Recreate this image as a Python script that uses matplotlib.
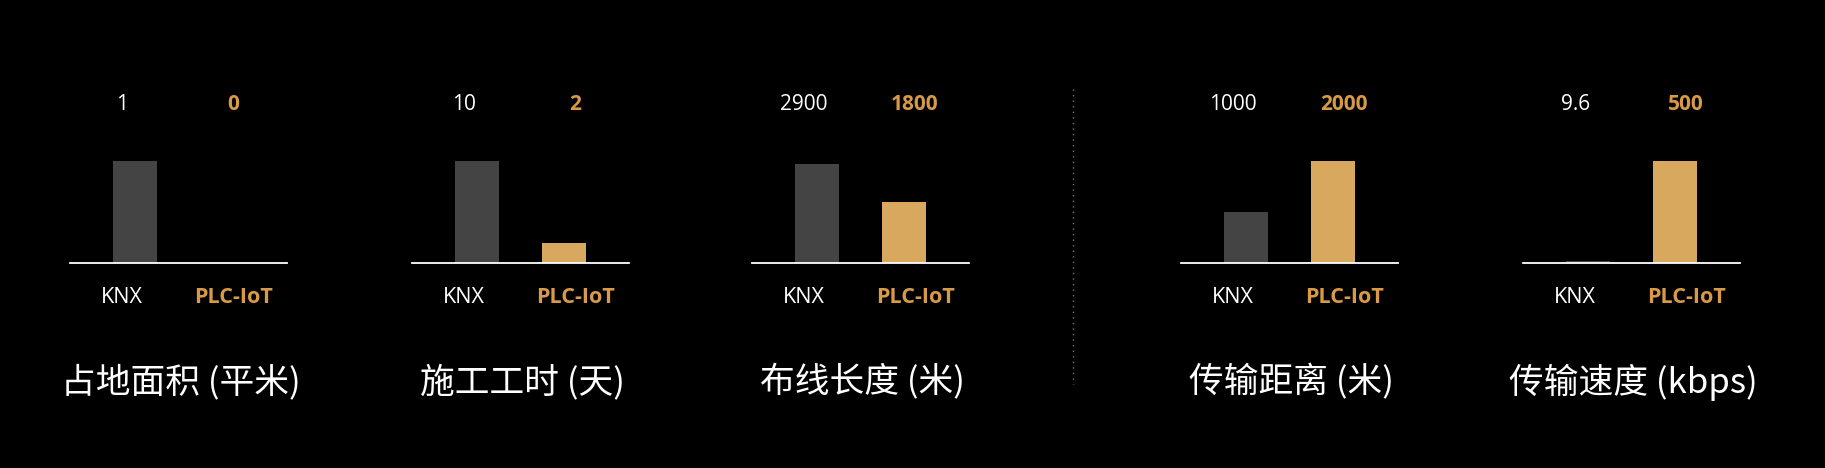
import matplotlib
matplotlib.use("Agg")
import matplotlib.pyplot as plt
from matplotlib.lines import Line2D

plt.rcParams['font.family'] = ['Noto Sans CJK SC', 'DejaVu Sans']
LATIN = ['Open Sans', 'Noto Sans CJK SC']

# 数据
titles = ['占地面积 (平米)', '施工工时 (天)', '布线长度 (米)', '传输距离 (米)', '传输速度 (kbps)']
knx_values = [1, 10, 2900, 1000, 9.6]
plc_values = [0, 2, 1800, 2000, 500]
knx_labels = ['1', '10', '2900', '1000', '9.6']
plc_labels = ['0', '2', '1800', '2000', '500']
categories = ['KNX', 'PLC-IoT']
y_tops = [1, 10, 3000, 2000, 500]

# 配色
BG = '#000000'
GRAY = '#444444'
GOLD = '#D8A85E'
GOLD_TEXT = '#D99A47'

W, H = 1825, 468
fig = plt.figure(figsize=(W / 100, H / 100), dpi=100, facecolor=BG)

lefts_px = [70, 412, 752, 1181, 1523]
ax_w = 217 / W
ax_bottom = 1 - 263 / H
ax_h = 102 / H

for i, title in enumerate(titles):
    ax = fig.add_axes([lefts_px[i] / W, ax_bottom, ax_w, ax_h])
    ax.set_facecolor(BG)
    ax.bar([0, 1], [knx_values[i], plc_values[i]], width=0.5,
           color=[GRAY, GOLD], zorder=2)
    ax.set_xlim(-0.75, 1.75)
    ax.set_ylim(0, y_tops[i])
    for s in ['top', 'left', 'right']:
        ax.spines[s].set_visible(False)
    ax.spines['bottom'].set_color('white')
    ax.spines['bottom'].set_linewidth(1.3)
    ax.spines['bottom'].set_zorder(3)
    ax.set_xticks([])
    ax.set_yticks([])

    # 数值
    ax.text(0.24, 1.55, knx_labels[i], transform=ax.transAxes,
            ha='center', va='center', fontsize=15, color='white',
            family=LATIN)
    ax.text(0.75, 1.55, plc_labels[i], transform=ax.transAxes,
            ha='center', va='center', fontsize=15, color=GOLD_TEXT,
            fontweight='bold', family=LATIN)
    # 类别
    ax.text(0.24, -0.34, categories[0], transform=ax.transAxes,
            ha='center', va='center', fontsize=15.5, color='white',
            family=LATIN)
    ax.text(0.755, -0.34, categories[1], transform=ax.transAxes,
            ha='center', va='center', fontsize=15.5, color=GOLD_TEXT,
            fontweight='bold', family=LATIN)
    # 标题
    ax.text(0.51, -1.17, title, transform=ax.transAxes,
            ha='center', va='center', fontsize=25, color='white')

# 分隔虚线
x_sep = 1073 / W
fig.add_artist(Line2D([x_sep, x_sep], [1 - 89 / H, 1 - 384 / H],
                      color='#777777', linestyle=(0, (1, 3)), linewidth=1))

fig.savefig('out.png', dpi=100, facecolor=BG)
